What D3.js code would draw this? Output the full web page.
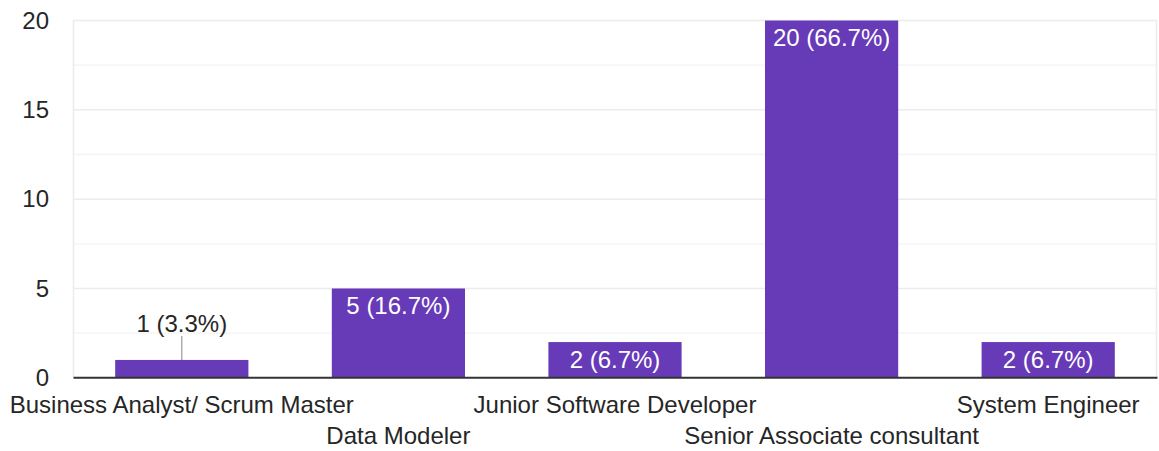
<!DOCTYPE html>
<html>
<head>
<meta charset="utf-8">
<script src="https://cdn.jsdelivr.net/npm/d3@7"></script>
<style>
  html, body { margin: 0; padding: 0; background: #fff; }
  svg { display: block; font-family: Arial, "Liberation Sans", sans-serif; }
</style>
</head>
<body>
<svg id="chart" width="1159" height="451"></svg>
<script>
const categories = ["Business Analyst/ Scrum Master", "Data Modeler", "Junior Software Developer", "Senior Associate consultant", "System Engineer"];
const counts = [1, 5, 2, 20, 2];
const percents = ["3.3%", "16.7%", "6.7%", "66.7%", "6.7%"];
const yTicks = [0, 5, 10, 15, 20];
const yMinorTicks = [2.5, 7.5, 12.5, 17.5];

const svg = d3.select("#chart");
const plotLeft = 73.5, plotRight = 1156.5, plotTop = 20.5, plotBottom = 377.8;
const fontSize = 24;

const x = d3.scaleBand().domain(categories).range([plotLeft, plotRight]).paddingInner(0.385).paddingOuter(0.1925);
const y = d3.scaleLinear().domain([0, 20]).range([plotBottom, plotTop]);

// gridlines
svg.append("g").selectAll("line").data(yMinorTicks).join("line")
  .attr("x1", plotLeft).attr("x2", plotRight)
  .attr("y1", d => y(d)).attr("y2", d => y(d))
  .attr("stroke", "#f3f3f3").attr("stroke-width", 1.3);
svg.append("g").selectAll("line").data(yTicks.filter(d => d !== 0)).join("line")
  .attr("x1", plotLeft).attr("x2", plotRight)
  .attr("y1", d => y(d)).attr("y2", d => y(d))
  .attr("stroke", "#ececec").attr("stroke-width", 1.5);
// vertical frame lines
svg.append("line").attr("x1", plotLeft).attr("x2", plotLeft).attr("y1", plotTop - 0.7).attr("y2", plotBottom)
  .attr("stroke", "#ececec").attr("stroke-width", 1.5);
svg.append("line").attr("x1", plotRight).attr("x2", plotRight).attr("y1", plotTop - 0.7).attr("y2", plotBottom)
  .attr("stroke", "#ececec").attr("stroke-width", 1.5);

// y axis labels
const yAxis = d3.axisLeft(y).tickValues(yTicks).tickSize(0).tickPadding(24.5);
const yg = svg.append("g").attr("transform", `translate(${plotLeft},0)`).call(yAxis);
yg.select(".domain").remove();
yg.selectAll("text").attr("font-size", fontSize).attr("fill", "#262626")
  .attr("font-family", "Arial, 'Liberation Sans', sans-serif");

// bars
svg.append("g").selectAll("rect").data(counts).join("rect")
  .attr("x", (d, i) => x(categories[i]))
  .attr("width", x.bandwidth())
  .attr("y", d => y(d))
  .attr("height", d => y(0) - y(d))
  .attr("fill", "#673ab7");

// baseline
svg.append("line").attr("x1", plotLeft).attr("x2", plotRight + 1).attr("y1", y(0)).attr("y2", y(0))
  .attr("stroke", "#333").attr("stroke-width", 2);

// value labels
counts.forEach((d, i) => {
  const cx = x(categories[i]) + x.bandwidth() / 2;
  const label = `${d} (${percents[i]})`;
  const inside = (y(0) - y(d)) > 30;
  if (inside) {
    svg.append("text").attr("x", cx).attr("y", y(d) + 25.5)
      .attr("text-anchor", "middle").attr("font-size", fontSize).attr("fill", "#fff").text(label);
  } else {
    svg.append("line").attr("x1", cx).attr("x2", cx).attr("y1", y(d)).attr("y2", y(d) - 24)
      .attr("stroke", "#999").attr("stroke-width", 1.2);
    svg.append("text").attr("x", cx).attr("y", y(d) - 27.5)
      .attr("text-anchor", "middle").attr("font-size", fontSize).attr("fill", "#262626").text(label);
  }
});

// x axis labels (staggered)
const xAxis = d3.axisBottom(x).tickSize(0).tickPadding(0);
const xg = svg.append("g").attr("transform", `translate(0,${plotBottom})`).call(xAxis);
xg.select(".domain").remove();
xg.selectAll("text")
  .attr("font-size", fontSize).attr("fill", "#262626")
  .attr("font-family", "Arial, 'Liberation Sans', sans-serif")
  .attr("dy", null)
  .attr("y", (d, i) => i % 2 === 0 ? 35.7 : 66);
</script>
</body>
</html>
